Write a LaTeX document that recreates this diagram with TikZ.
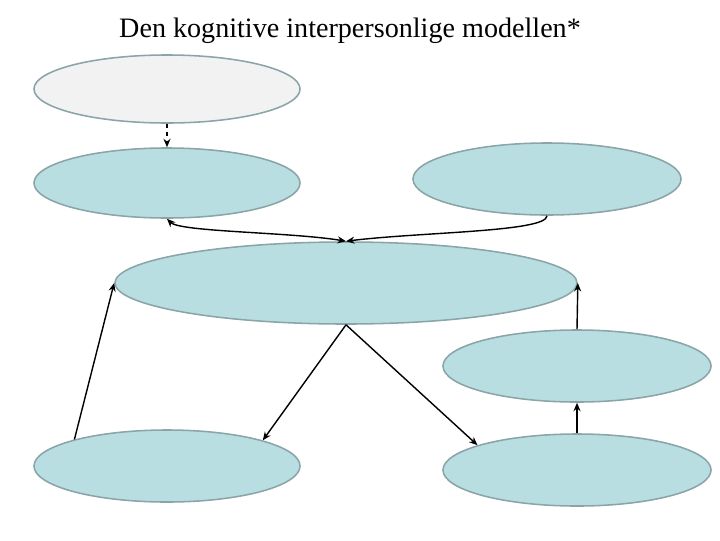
\documentclass[tikz,border=0pt]{standalone}
\usepackage{fontspec}
\setmainfont{Liberation Serif}
\usetikzlibrary{arrows.meta,shapes.geometric}
\definecolor{bubble}{RGB}{184,222,226}
\definecolor{bubblegray}{RGB}{242,242,242}
\definecolor{rim}{RGB}{138,164,168}

\begin{document}
\begin{tikzpicture}[x=0.025cm,y=-0.025cm,
    blob/.style={ellipse, draw=rim, line width=1.1pt, fill=bubble,
                 minimum width=6.7cm, minimum height=1.8cm, inner sep=0pt},
    link/.style={-{Stealth[length=6pt,width=5pt]}, line width=1pt}]
  \useasboundingbox (0,0) rectangle (720,540);
  \node[font=\fontsize{20}{24}\selectfont] (title) at (350,31)
    {Den kognitive interpersonlige modellen*};

  % ellipses
  \node[blob, fill=bubblegray, minimum width=6.65cm, minimum height=1.7cm] (trigger) at (167,89) {};
  \node[blob, minimum width=6.65cm, minimum height=1.75cm] (schema) at (167,183) {};
  \node[blob] (context) at (547,179) {};
  \node[blob, minimum width=11.55cm, minimum height=2.05cm] (core) at (346,283) {};
  \node[blob] (feedback) at (577,366) {};
  \node[blob, minimum width=6.65cm] (selfbeh) at (167,466) {};
  \node[blob] (otherbeh) at (577,470) {};

  % connectors
  \draw[link, dashed] (trigger.south) -- (schema.north);
  \draw[link, {Stealth[length=6pt,width=5pt]}-{Stealth[length=6pt,width=5pt]}]
    (schema.south) .. controls (180,232) and (290,232) .. (core.north);
  \draw[link] (context.south) .. controls (547,232) and (420,232) .. (core.north);
  \draw[link] (selfbeh.164) -- (core.west);
  \draw[link] (core.south) -- (selfbeh.15);
  \draw[link] (core.south) -- (otherbeh.166);
  \draw[link] (otherbeh.north) -- (feedback.south);
  \draw[link] (feedback.north) -- (core.east);
\end{tikzpicture}
\end{document}
